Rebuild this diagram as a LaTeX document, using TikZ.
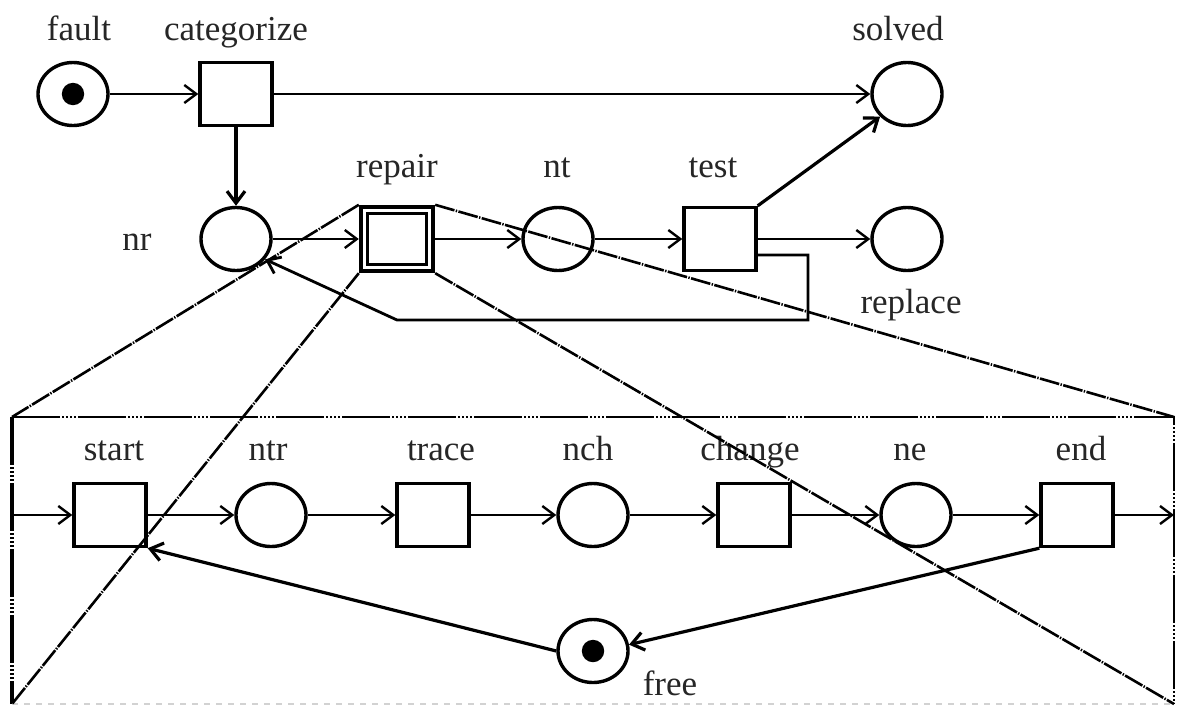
\documentclass[tikz,border=0pt]{standalone}
\usepackage{fontspec}
\setmainfont{Liberation Serif}
\usetikzlibrary{shapes.geometric,arrows.meta}
\begin{document}
\begin{tikzpicture}[x=0.5pt,y=-0.5pt,
  place/.style={ellipse,draw,line width=1.7pt,minimum width=35pt,minimum height=31.5pt,inner sep=0pt},
  trans/.style={rectangle,draw,line width=1.7pt,minimum width=36pt,minimum height=31.5pt,inner sep=0pt},
  lbl/.style={anchor=base,font=\fontsize{17.5}{20}\selectfont,inner sep=0pt,text=black!85},
  arc/.style={line width=1.2pt,-{Straight Barb[length=6pt,width=9pt]}},
  heavyarc/.style={arc,line width=1.6pt},
  proj/.style={line width=1.3pt,dash pattern=on 10pt off 0.7pt on 0.7pt off 0.7pt},
  frame/.style={line width=1.1pt,dash pattern=on 24pt off 1pt on 1pt off 1pt on 1pt off 1pt on 1pt off 1pt on 1pt off 1pt},
  token/.style={fill=black}
]
\fill[white] (0,0) rectangle (1177,707);
\useasboundingbox (0,0) rectangle (1177,707);

% upper net
\node[place] (fault) at (73,94) {};
\node[trans] (categorize) at (236,94) {};
\node[place] (solved) at (907,94) {};
\node[place] (nr) at (236,239) {};
\node[trans,line width=2.2pt,minimum height=32pt] (repair) at (397,239) {};
\node[place] (nt) at (558,239) {};
\node[trans] (test) at (720,239) {};
\node[place] (replace) at (907,239) {};
\draw[line width=1.4pt] ([shift={(4.2pt,4.2pt)}]repair.south west) rectangle ([shift={(-4.2pt,-4.2pt)}]repair.north east);
\fill[token] (fault.center) circle (5.6pt);

\node[lbl] (faultlbl) at (79,40) {fault};
\node[lbl] (categorizelbl) at (236,40) {categorize};
\node[lbl] (solvedlbl) at (898,40) {solved};
\node[lbl] (nrlbl) at (137,250) {nr};
\node[lbl] (repairlbl) at (397,177) {repair};
\node[lbl] (ntlbl) at (557,177) {nt};
\node[lbl] (testlbl) at (713,177) {test};
\node[lbl] (replacelbl) at (911,313) {replace};

\draw[arc] (fault) -- (categorize);
\draw[arc] (categorize) -- (solved);
\draw[heavyarc] (categorize) -- (nr);
\draw[arc] (nr) -- (repair);
\draw[arc] (repair) -- (nt);
\draw[arc] (nt) -- (test);
\draw[heavyarc] (test.north east) -- (solved.220);
\draw[arc] (test) -- (replace);
\coordinate (fb1) at (808,255);
\coordinate (fb2) at (808,320);
\coordinate (fb3) at (397,320);
\draw[arc,line width=1.4pt] (test.east |- fb1) -- (fb1) -- (fb2) -- (fb3) -- (nr.-35);

% refinement of repair
\coordinate (fTL) at (12,417);
\coordinate (fTR) at (1174,417);
\coordinate (fBL) at (12,704);
\coordinate (fBR) at (1174,704);
\draw[frame] (fTL) -- (fTR) -- (fBR);
\draw[frame,line width=1.7pt] (fTL) -- (fBL);
\draw[gray!35,line width=0.6pt,dashed] (fBL) -- (fBR);

\node[trans] (start) at (110,515) {};
\node[place] (ntr) at (271,515) {};
\node[trans] (trace) at (433,515) {};
\node[place] (nch) at (593,515) {};
\node[trans] (change) at (754,515) {};
\node[place] (ne) at (916,515) {};
\node[trans] (end) at (1077,515) {};
\node[place] (free) at (593,651) {};
\fill[token] (free.center) circle (5.6pt);

\node[lbl] (startlbl) at (114,460) {start};
\node[lbl] (ntrlbl) at (268,460) {ntr};
\node[lbl] (tracelbl) at (441,460) {trace};
\node[lbl] (nchlbl) at (588,460) {nch};
\node[lbl] (changelbl) at (750,460) {change};
\node[lbl] (nelbl) at (910,460) {ne};
\node[lbl] (endlbl) at (1081,460) {end};
\node[lbl] (freelbl) at (670,695) {free};

\coordinate (inL) at (12,515);
\coordinate (outR) at (1174,515);
\draw[arc] (inL) -- (start);
\draw[arc] (start) -- (ntr);
\draw[arc] (ntr) -- (trace);
\draw[arc] (trace) -- (nch);
\draw[arc] (nch) -- (change);
\draw[arc] (change) -- (ne);
\draw[arc] (ne) -- (end);
\draw[arc] (end) -- (outR);
\draw[heavyarc] (end.south west) -- (free.10);
\draw[heavyarc] (free.west) -- (start.south east);

\draw[proj] (repair.north west) -- (fTL);
\draw[proj] (repair.north east) -- (fTR);
\draw[proj] (repair.south west) -- (fBL);
\draw[proj] (repair.south east) -- (fBR);
\end{tikzpicture}
\end{document}
